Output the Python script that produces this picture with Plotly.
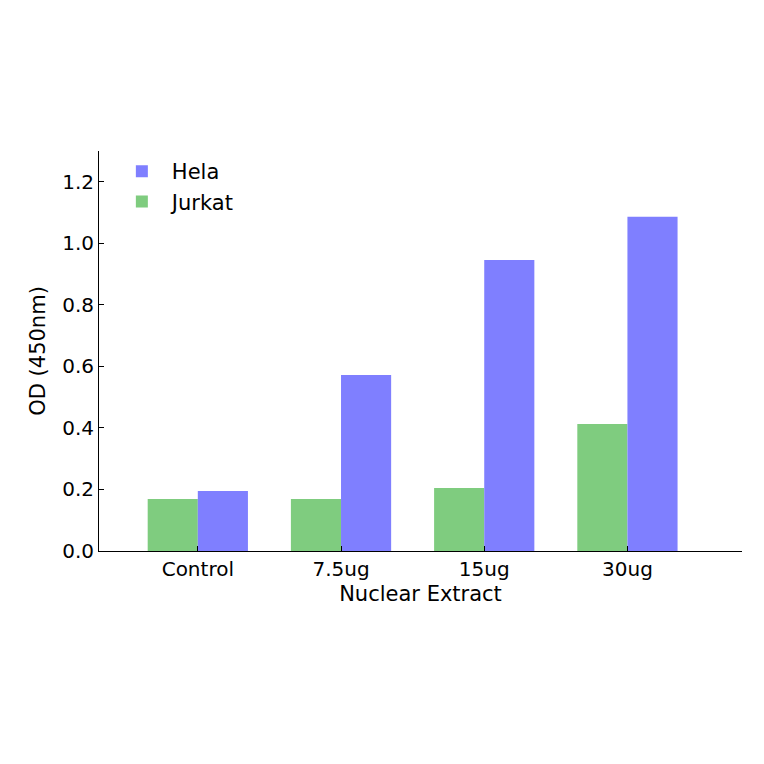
import plotly.graph_objects as go

categories = ["Control", "7.5ug", "15ug", "30ug"]
hela = [0.195, 0.572, 0.946, 1.086]
jurkat = [0.169, 0.169, 0.205, 0.413]

fig = go.Figure()
fig.add_bar(x=categories, y=jurkat, name="Jurkat", marker=dict(color="#7fcc7f", line_width=0))
fig.add_bar(x=categories, y=hela, name="Hela", marker=dict(color="#7f7fff", line_width=0))

fig.update_layout(
    width=764, height=764,
    margin=dict(l=91, r=30, t=143, b=221),
    plot_bgcolor="white", paper_bgcolor="white",
    font=dict(family="DejaVu Sans", size=20, color="black"),
    barmode="group", bargap=0.3, bargroupgap=0,
    showlegend=True,
    legend=dict(x=0.02, y=1.0, xanchor="left", yanchor="top", traceorder="reversed",
                bgcolor="rgba(0,0,0,0)", font=dict(size=21), itemwidth=50),
)
fig.update_xaxes(
    range=[-0.69, 3.8], showline=True, linecolor="black", linewidth=1,
    ticks="inside", ticklen=5, tickcolor="black",
    title=dict(text="Nuclear Extract", standoff=6, font=dict(size=21)),
)
fig.update_yaxes(
    range=[0, 1.3], dtick=0.2, tickformat=".1f", showgrid=False, zeroline=False,
    showline=True, linecolor="black", linewidth=1,
    ticks="inside", ticklen=5, tickcolor="black",
    title=dict(text="OD (450nm)", standoff=10, font=dict(size=21)),
)
fig.write_html("out.html")
